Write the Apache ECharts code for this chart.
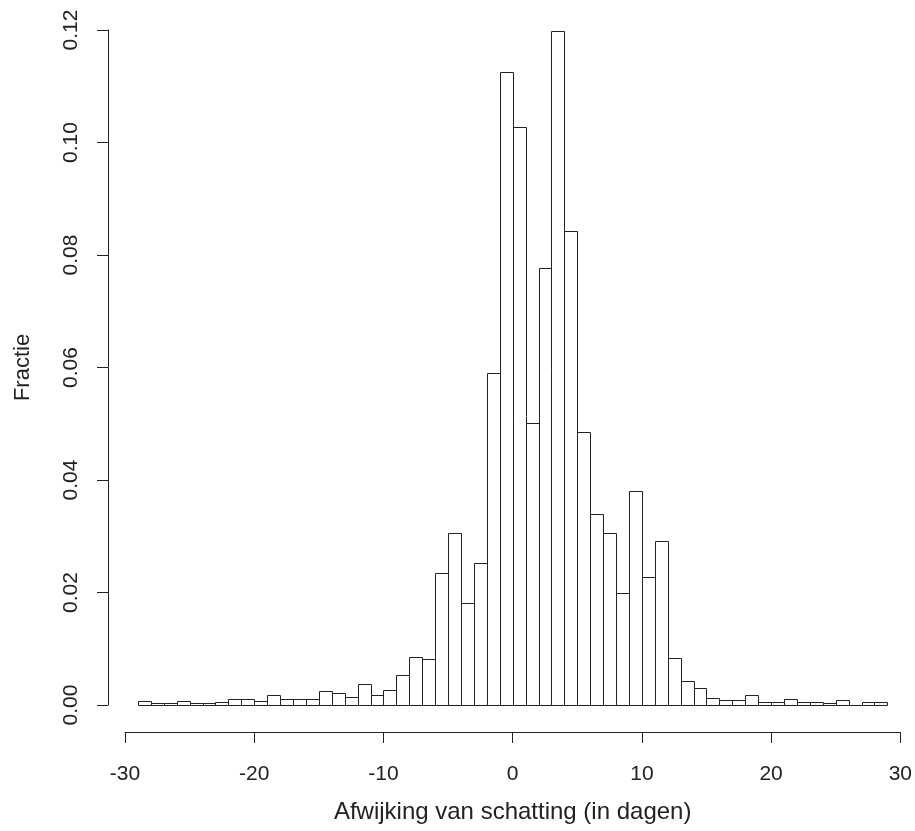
<!DOCTYPE html>
<html>
<head>
<meta charset="utf-8">
<script src="https://cdn.jsdelivr.net/npm/echarts@6/dist/echarts.min.js"></script>
<style>
  html, body { margin: 0; padding: 0; background: #fff; }
  #chart { width: 915px; height: 831px; }
</style>
</head>
<body>
<div id="chart"></div>
<script>
// linkerrand van elke klasse (breedte 1 dag)
const binLeft = [-29, -28, -27, -26, -25, -24, -23, -22, -21, -20,
  -19, -18, -17, -16, -15, -14, -13, -12, -11, -10,
  -9, -8, -7, -6, -5, -4, -3, -2, -1, 0,
  1, 2, 3, 4, 5, 6, 7, 8, 9, 10,
  11, 12, 13, 14, 15, 16, 17, 18, 19, 20,
  21, 22, 23, 24, 25, 26, 27, 28];
// fractie per klasse
const fraction = [0.0008, 0.0004, 0.0004, 0.0007, 0.0004, 0.0004, 0.0006, 0.001, 0.001, 0.0007,
  0.0018, 0.001, 0.001, 0.001, 0.0025, 0.0021, 0.0014, 0.0038, 0.0017, 0.0026,
  0.0053, 0.0085, 0.0081, 0.0234, 0.0306, 0.0182, 0.0252, 0.059, 0.1125, 0.1028,
  0.0501, 0.0777, 0.1199, 0.0843, 0.0486, 0.034, 0.0305, 0.0199, 0.038, 0.0227,
  0.0291, 0.0083, 0.0043, 0.0031, 0.0013, 0.0009, 0.0009, 0.0018, 0.0005, 0.0005,
  0.001, 0.0005, 0.0005, 0.0003, 0.0009, 0, 0.0005, 0.0005];
const binWidth = 1;

let chart = echarts.init(document.getElementById('chart'));

let data = binLeft.map((l, i) => [l, l + binWidth, fraction[i]]);

//histogram balken tekenen
function renderBar(params, api) {
  let p0 = api.coord([api.value(0), 0]);
  let p1 = api.coord([api.value(1), api.value(2)]);
  let x0 = Math.round(p0[0]) + 0.5;
  let x1 = Math.round(p1[0]) + 0.5;
  let yb = Math.round(p0[1]) + 0.5;
  let yt = Math.round(p1[1]) + 0.5;
  return {
    type: 'rect',
    shape: { x: x0, y: yt, width: x1 - x0, height: yb - yt },
    style: { fill: '#fff', stroke: '#222', lineWidth: 1 }
  };
}

const textStyle = { color: '#222', fontFamily: 'Liberation Sans, Arial, sans-serif' };

let option = {
  backgroundColor: '#ffffff',
  animation: false,
  grid: { left: 125, right: 14, top: 30, bottom: 126 },
  xAxis: {
    type: 'value',
    min: -30,
    max: 30,
    interval: 10,
    offset: 27,
    name: 'Afwijking van schatting (in dagen)',
    nameLocation: 'middle',
    nameGap: 68,
    nameTextStyle: Object.assign({ fontSize: 24 }, textStyle),
    axisLine: { show: true, onZero: false, lineStyle: { color: '#222', width: 1 } },
    axisTick: { show: true, length: 11, lineStyle: { color: '#222' } },
    axisLabel: Object.assign({ fontSize: 21, margin: 32 }, textStyle),
    splitLine: { show: false }
  },
  yAxis: {
    type: 'value',
    min: 0,
    max: 0.12,
    interval: 0.02,
    offset: 17,
    name: 'Fractie',
    nameLocation: 'middle',
    nameGap: 74,
    nameRotate: 90,
    nameTextStyle: Object.assign({ fontSize: 22 }, textStyle),
    axisLine: { show: true, onZero: false, lineStyle: { color: '#222', width: 1 } },
    axisTick: { show: true, length: 11, lineStyle: { color: '#222' } },
    axisLabel: Object.assign({
      fontSize: 21,
      rotate: 90,
      margin: 26,
      formatter: v => v.toFixed(2)
    }, textStyle),
    splitLine: { show: false }
  },
  series: [{
    type: 'custom',
    renderItem: renderBar,
    encode: { x: [0, 1], y: 2 },
    data: data,
    clip: false
  }]
};
chart.setOption(option);
</script>
</body>
</html>
